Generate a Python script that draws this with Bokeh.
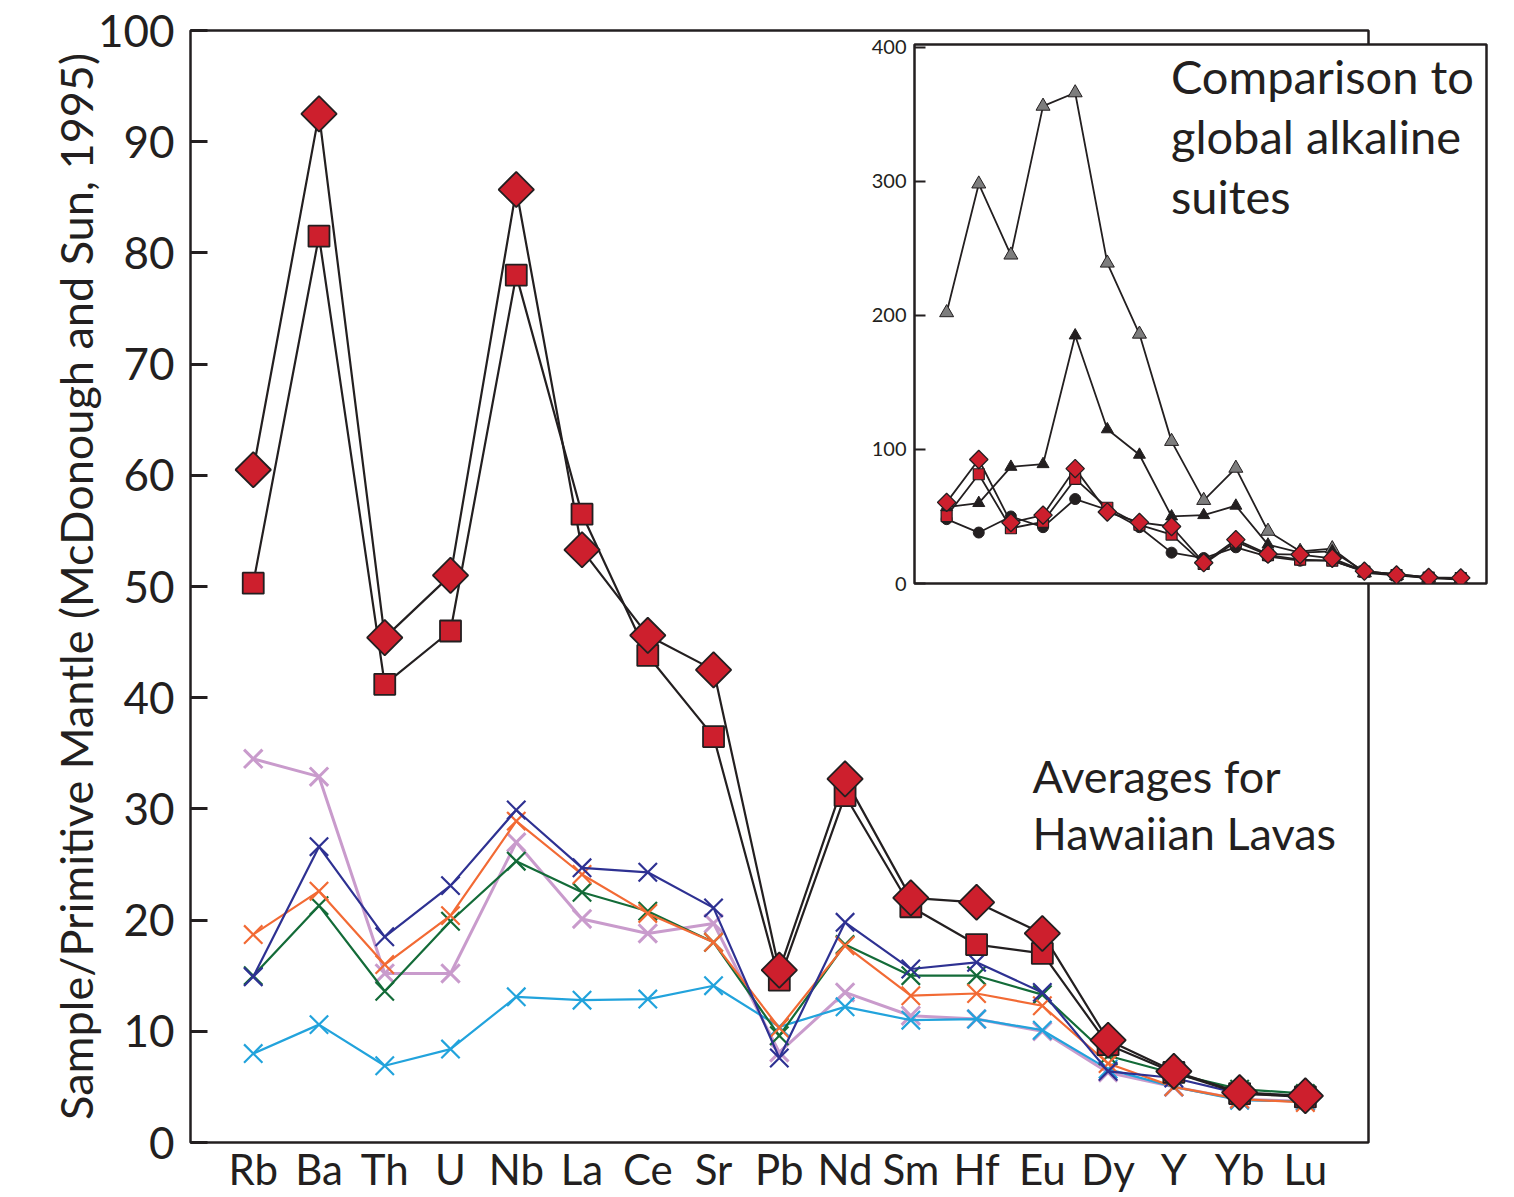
import numpy as np
from bokeh.plotting import figure
from bokeh.models import Range1d, FixedTicker, Label
from bokeh.embed import file_html
from bokeh.resources import INLINE

# ---------------- data ----------------
elements = ["Rb", "Ba", "Th", "U", "Nb", "La", "Ce", "Sr", "Pb",
            "Nd", "Sm", "Hf", "Eu", "Dy", "Y", "Yb", "Lu"]

# alkaline suites (red symbols), sample / primitive mantle
diamond_vals = [60.5, 92.5, 45.4, 51.0, 85.7, 53.3, 45.6, 42.5, 15.5,
                32.7, 22.0, 21.6, 18.8, 9.2, 6.4, 4.5, 4.2]
square_vals = [50.3, 81.5, 41.2, 46.0, 78.0, 56.5, 43.8, 36.5, 14.6,
               31.2, 21.2, 17.8, 17.0, 8.8, 6.3, 4.4, 4.1]

# averages for Hawaiian lavas
navy_vals = [14.9, 26.6, 18.5, 23.1, 29.9, 24.7, 24.3, 21.1, 7.6,
             19.8, 15.6, 16.2, 13.5, 6.4, 5.8, 4.4, 4.2]
orange_vals = [18.7, 22.6, 16.0, 20.4, 28.9, 24.1, 20.6, 18.0, 10.3,
               17.7, 13.2, 13.4, 12.3, 7.1, 5.0, 3.9, 3.6]
green_vals = [15.0, 21.3, 13.6, 19.9, 25.3, 22.5, 20.8, 18.0, 9.6,
              17.8, 15.0, 15.0, 13.3, 7.8, 6.2, 4.8, 4.4]
plum_vals = [34.5, 32.9, 15.2, 15.2, 27.0, 20.1, 18.8, 19.7, 8.1,
             13.5, 11.4, 11.1, 10.0, 6.3, 5.0, 3.9, 3.7]
cyan_vals = [8.0, 10.6, 6.9, 8.4, 13.1, 12.8, 12.9, 14.1, 10.4,
             12.2, 11.0, 11.1, 10.1, 6.6, 5.0, 3.8, 3.7]

# inset: global alkaline suites
gray_tri_vals = [202, 298, 245, 356, 366, 239, 186, 106, 62,
                 86, 39, 24, 26, 8, 6, 4, 3]
black_tri_vals = [57, 60, 87, 89, 185, 115, 96, 50, 51,
                  58, 29, 23, 24, 9, 7, 4.5, 3.5]
circle_vals = [48, 38, 50, 42, 63, 55, 42, 23, 19,
               27, 20, 17, 17, 9, 7, 4.5, 3.5]

main_yticks = [0, 10, 20, 30, 40, 50, 60, 70, 80, 90, 100]
inset_yticks = [0, 100, 200, 300, 400]

# ---------------- styles ----------------
DARK = "#231f20"
RED = "#cd1f2d"
FONT = "Lato"

xs = list(range(len(elements)))

# ---------------- main figure ----------------
p = figure(width=1514, height=1197,
           x_range=Range1d(-0.954, 16.96), y_range=Range1d(0, 100),
           output_backend="svg", toolbar_location=None,
           min_border_left=190, min_border_right=146,
           min_border_top=30, min_border_bottom=55)
p.outline_line_color = DARK
p.outline_line_width = 2.5
p.xgrid.visible = False
p.ygrid.visible = False
p.background_fill_color = "white"
p.border_fill_color = "white"

p.yaxis.ticker = FixedTicker(ticks=main_yticks)
p.yaxis.axis_line_color = None
p.yaxis.major_tick_in = 17
p.yaxis.major_tick_out = 0
p.yaxis.major_tick_line_width = 3
p.yaxis.major_tick_line_color = DARK
p.yaxis.minor_tick_line_color = None
p.yaxis.major_label_text_font = FONT
p.yaxis.major_label_text_font_size = "44px"
p.yaxis.major_label_text_color = DARK
p.yaxis.major_label_standoff = 16
p.yaxis.axis_label = "Sample/Primitive Mantle (McDonough and Sun, 1995)"
p.yaxis.axis_label_text_font = FONT
p.yaxis.axis_label_text_font_style = "normal"
p.yaxis.axis_label_text_font_size = "45px"
p.yaxis.axis_label_text_color = DARK
p.yaxis.axis_label_standoff = -8

p.xaxis.ticker = FixedTicker(ticks=xs)
p.xaxis.major_label_overrides = {i: e for i, e in zip(xs, elements)}
p.xaxis.axis_line_color = None
p.xaxis.major_tick_line_color = None
p.xaxis.minor_tick_line_color = None
p.xaxis.major_label_text_font = FONT
p.xaxis.major_label_text_font_size = "42px"
p.xaxis.major_label_text_line_height = 1.0
p.xaxis.major_label_text_color = DARK
p.xaxis.major_label_standoff = -5

hawaii = [
    (plum_vals, "#c99bcc", 3.0),
    (cyan_vals, "#22a3dc", 2.2),
    (green_vals, "#136b38", 2.2),
    (orange_vals, "#f26a34", 2.2),
    (navy_vals, "#2e3192", 2.2),
]
for vals, col, lw in hawaii:
    p.line(xs, vals, line_color=col, line_width=lw)
    p.scatter(xs, vals, marker="x", size=26, line_color=col, line_width=lw)

p.line(xs, square_vals, line_color=DARK, line_width=2.2)
p.line(xs, diamond_vals, line_color=DARK, line_width=2.2)
p.scatter(xs, square_vals, marker="square", size=21, fill_color=RED,
          line_color=DARK, line_width=1.8)
p.scatter(xs, diamond_vals, marker="square", angle=np.pi / 4, size=25,
          fill_color=RED, line_color=DARK, line_width=1.8)

for txt, yv in [("Averages for", 33.0), ("Hawaiian Lavas", 27.8)]:
    p.add_layout(Label(x=11.85, y=yv, text=txt, text_font=FONT,
                       text_font_size="45px", text_color=DARK,
                       text_baseline="alphabetic", text_align="left"))

# ---------------- inset figure ----------------
ins = figure(width=656, height=591,
             x_range=Range1d(-1.0, 16.8), y_range=Range1d(0, 402),
             output_backend="svg", toolbar_location=None,
             min_border_left=74, min_border_right=10,
             min_border_top=26, min_border_bottom=26,
             styles={"position": "absolute", "left": "840px", "top": "18px"})
ins.outline_line_color = DARK
ins.outline_line_width = 2.5
ins.xgrid.visible = False
ins.ygrid.visible = False
ins.xaxis.visible = False
ins.background_fill_color = "white"
ins.border_fill_alpha = 0
ins.yaxis.ticker = FixedTicker(ticks=inset_yticks)
ins.yaxis.axis_line_color = None
ins.yaxis.major_tick_in = 11
ins.yaxis.major_tick_out = 0
ins.yaxis.major_tick_line_width = 2
ins.yaxis.major_tick_line_color = DARK
ins.yaxis.minor_tick_line_color = None
ins.yaxis.major_label_text_font = FONT
ins.yaxis.major_label_text_font_size = "20px"
ins.yaxis.major_label_text_color = DARK
ins.yaxis.major_label_standoff = 8

for vals in [gray_tri_vals, black_tri_vals, circle_vals, square_vals, diamond_vals]:
    ins.line(xs, vals, line_color=DARK, line_width=1.8)
ins.scatter(xs, gray_tri_vals, marker="triangle", size=14, fill_color="#7d7d7d",
            line_color=DARK, line_width=1)
ins.scatter(xs, black_tri_vals, marker="triangle", size=12, fill_color=DARK,
            line_color=DARK, line_width=1)
ins.scatter(xs, circle_vals, marker="circle", size=11, fill_color=DARK,
            line_color=DARK, line_width=1)
ins.scatter(xs, square_vals, marker="square", size=11, fill_color=RED,
            line_color=DARK, line_width=1.2)
ins.scatter(xs, diamond_vals, marker="square", angle=np.pi / 4, size=13,
            fill_color=RED, line_color=DARK, line_width=1.3)

for txt, yv in [("Comparison to", 378.8), ("global alkaline", 334.1), ("suites", 289.3)]:
    ins.add_layout(Label(x=6.98, y=yv, text=txt, text_font=FONT,
                         text_font_size="47px", text_color=DARK,
                         text_baseline="alphabetic", text_align="left"))

open("out.html", "w").write(file_html([p, ins], INLINE))
